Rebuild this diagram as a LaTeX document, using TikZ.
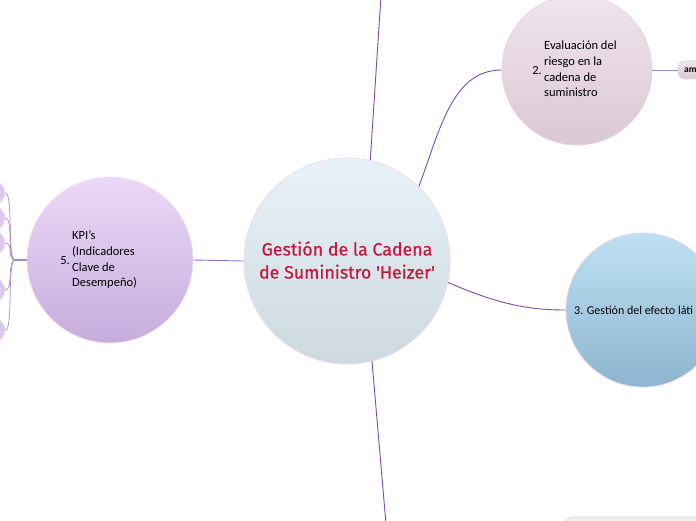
\documentclass[tikz,border=0pt]{standalone}
\usepackage{fontspec}
\setmainfont{Carlito}
\newfontfamily\titlefont{Fira Sans}[UprightFeatures={FakeBold=0.6}]
\usetikzlibrary{positioning}
\definecolor{linkpurple}{HTML}{7E4BAA}
\definecolor{twigpurple}{HTML}{A68AC6}
\definecolor{titlered}{HTML}{C8173C}
\definecolor{centretop}{HTML}{E8F3F9}
\definecolor{centrebot}{HTML}{CDD8DF}
\definecolor{evaltop}{HTML}{F1E5ED}
\definecolor{evalbot}{HTML}{DAC8D3}
\definecolor{latigotop}{HTML}{BEE0F3}
\definecolor{latigobot}{HTML}{8DB5CF}
\definecolor{kpitop}{HTML}{EBD9F8}
\definecolor{kpibot}{HTML}{C6ACDC}
\begin{document}
\begin{tikzpicture}[x=1pt, y=1pt,
    bubble/.style={circle, inner sep=0pt, draw=#1, line width=0.8pt},
    link/.style={draw=linkpurple, line width=0.9pt},
    twig/.style={draw=twigpurple, line width=0.7pt},
    topic/.style={font=\fontsize{12.5}{15.6}\selectfont, align=left, inner sep=0pt, text=black}]
  \useasboundingbox (0,0) rectangle (696,520);
  \clip (0,0) rectangle (696,520);
  % bubbles
  \node[bubble=violet!15, minimum size=206, top color=centretop, bottom color=centrebot] (centre) at (347,259) {};
  \node[bubble=violet!18, minimum size=150, top color=evaltop, bottom color=evalbot] (eval) at (577,450) {};
  \node[bubble=violet!18, minimum size=154, top color=latigotop, bottom color=latigobot] (latigo) at (643,210) {};
  \node[bubble=violet!12, minimum size=166, top color=kpitop, bottom color=kpibot] (kpi) at (110,260) {};
  \node[draw=violet!20, rounded corners=7pt, line width=0.8pt, minimum width=60, minimum height=18, top color=evaltop, bottom color=evalbot] (amb) at (708,450) {};
  \node[draw=violet!18, rounded corners=8pt, line width=0.8pt, minimum width=170, minimum height=40, fill=violet!6!gray!12] (nextbox) at (650,-17) {};
  \foreach \name/\yy in {c1/327, c2/302, c3/277, c4/230, c5/190}
    \node[bubble=violet!15, minimum size=24, fill=kpitop!60!kpibot] (\name) at (-7,\yy) {};
  % texts
  \node[font=\titlefont\fontsize{17.8}{23}\selectfont, text=titlered, align=center] (titletext) at (347,260) {Gestión de la Cadena\\de Suministro 'Heizer'};
  \node[topic, anchor=west] (evaltext) at (544,451) {Evaluación del\\riesgo en la\\cadena de\\suministro};
  \node[topic, left=2pt of evaltext, yshift=-1pt] (evalnum) {2.};
  \node[topic, anchor=west] (kpitext) at (72,260) {KPI's\\(Indicadores\\Clave de\\Desempeño)};
  \node[topic, left=2pt of kpitext, yshift=-1pt] (kpinum) {5.};
  \node[topic, font=\fontsize{12}{12}\selectfont, anchor=west] (latigotext) at (574,210) {3. Gestión del efecto láti};
  \node[font=\fontsize{9.5}{9.5}\selectfont\bfseries, anchor=west, inner sep=0pt] (ambtext) at (684,450) {am};
  % links
  \coordinate (topend) at (381,524);
  \coordinate (bottomend) at (386,-4);
  \coordinate (hub) at (15,260);
  \draw[link] (centre.77) -- (topend);
  \draw[link] (centre.-76) -- (bottomend);
  \draw[link] (centre.46) .. controls (440,390) and (452,450) .. (eval.west);
  \draw[link] (centre.-12) .. controls (500,215) and (530,210) .. (latigo.west);
  \draw[link, draw=linkpurple!80] (centre.west) -- (kpi.east);
  \draw[link, draw=twigpurple] (eval.east) -- (amb.west);
  \draw[twig, line width=1.6pt] (kpi.west) -- (hub);
  \foreach \name in {c1,c2,c3,c4,c5}
    \draw[twig] (hub) .. controls +(-8,0) and +(8,0) .. (\name.east);
\end{tikzpicture}
\end{document}
